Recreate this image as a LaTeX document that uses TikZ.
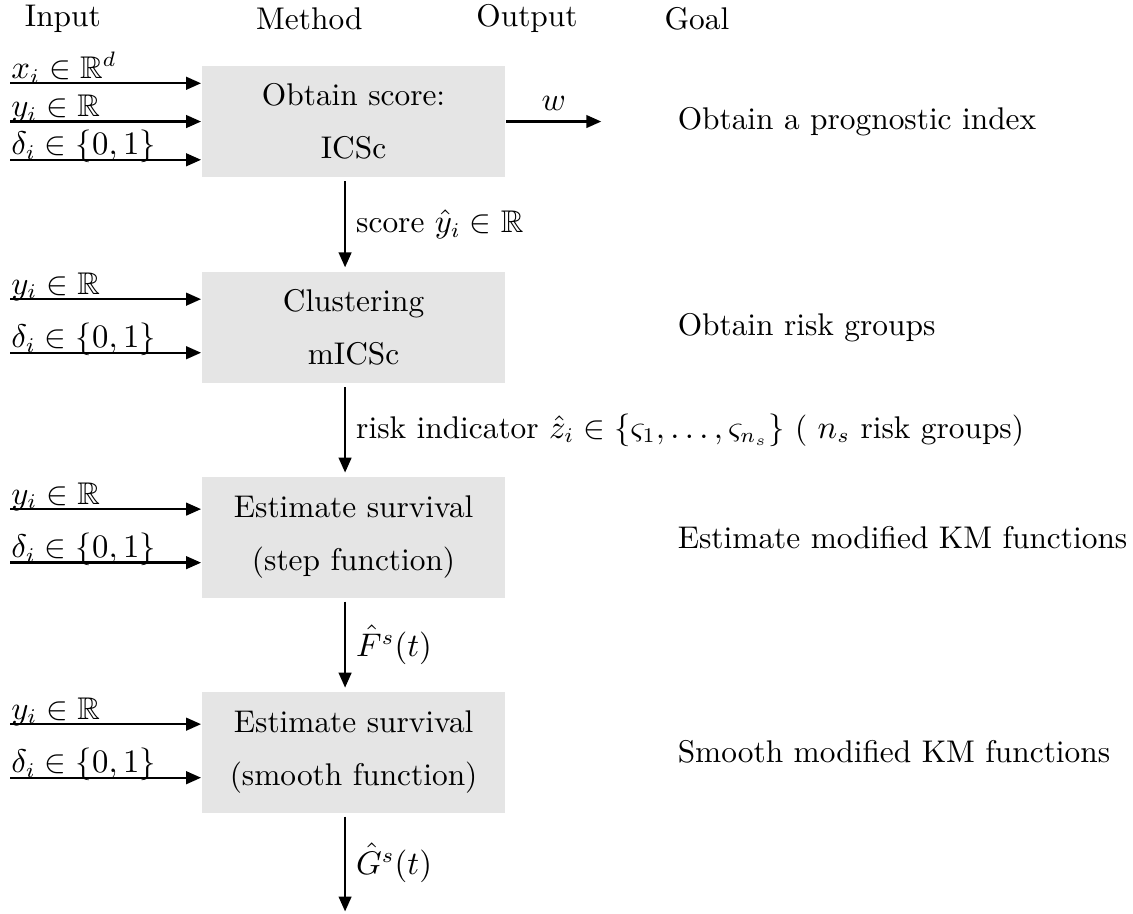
\documentclass[tikz,border=0pt]{standalone}
\usepackage{amsmath,amssymb}
\usepackage{tikz}
\usetikzlibrary{arrows.meta}
\usetikzlibrary{positioning}

\begin{document}
\begin{tikzpicture}[thick,node distance=2.47cm,font=\fontsize{10.5}{12.6}\selectfont,
	method node/.style={fill=black!10, minimum width=3.56cm, minimum height=1.31cm, align=center},
	tall node/.style={method node, minimum height=1.42cm},
	arr/.style={-{Triangle[length=5pt,width=4.2pt]}},
	in label/.style={pos=0, anchor=base west, inner sep=0pt, yshift=0.06cm},
	goal node/.style={anchor=west, inner sep=0pt}]
	
	\useasboundingbox (0,0) rectangle (13.33,-10.75);
	
	% headers
	\node (hin) at (0.74,-0.22) {Input};
	\node (hmet) at (3.64,-0.22) {Method};
	\node (hout) at (6.2,-0.22) {Output};
	\node (hgoal) at (8.2,-0.22) {Goal};
	
	% method boxes
	\node[method node] (obt) at (4.16,-1.43) {Obtain score:\\[5pt]ICSc};
	\node[method node] (clu) [below of=obt, yshift=0.05cm] {Clustering\\[5pt]mICSc};
	\node[tall node] (step) [below of=clu] {Estimate survival\\[5pt](step function)};
	\node[tall node] (smo) [below of=step, yshift=-0.06cm] {Estimate survival\\[5pt](smooth function)};
	
	% goals
	\coordinate (goalx) at (7.96,0);
	\node[goal node] (g1) at (obt -| goalx) {Obtain a prognostic index};
	\node[goal node] (g2) at (clu -| goalx) {Obtain risk groups};
	\node[goal node] (g3) at (step -| goalx) {Estimate modified KM functions};
	\node[goal node] (g4) at (smo -| goalx) {Smooth modified KM functions};
	
	% inputs
	\coordinate (left) at (0.12,0);
	\draw[arr] ([yshift=0.45cm]obt.west -| left) -- node[in label] {$x_i\in\mathbb{R}^d$} ([yshift=0.45cm]obt.west);
	\draw[arr] (obt.west -| left) -- node[in label] {$y_i\in\mathbb{R}$} (obt.west);
	\draw[arr] ([yshift=-0.45cm]obt.west -| left) -- node[in label] {$\delta_i\in\{0,1\}$} ([yshift=-0.45cm]obt.west);
	
	\draw[arr] ([yshift=0.33cm]clu.west -| left) -- node[in label] {$y_i\in\mathbb{R}$} ([yshift=0.33cm]clu.west);
	\draw[arr] ([yshift=-0.30cm]clu.west -| left) -- node[in label] {$\delta_i\in\{0,1\}$} ([yshift=-0.30cm]clu.west);
	
	\draw[arr] ([yshift=0.33cm]step.west -| left) -- node[in label] {$y_i\in\mathbb{R}$} ([yshift=0.33cm]step.west);
	\draw[arr] ([yshift=-0.30cm]step.west -| left) -- node[in label] {$\delta_i\in\{0,1\}$} ([yshift=-0.30cm]step.west);
	
	\draw[arr] ([yshift=0.33cm]smo.west -| left) -- node[in label] {$y_i\in\mathbb{R}$} ([yshift=0.33cm]smo.west);
	\draw[arr] ([yshift=-0.30cm]smo.west -| left) -- node[in label] {$\delta_i\in\{0,1\}$} ([yshift=-0.30cm]smo.west);
	
	% output
	\draw[arr] (obt.east) -- node[above] {$w$} ([xshift=1.12cm]obt.east);
	
	% flow between boxes
	\draw[arr, shorten <=1pt, shorten >=1pt] ([xshift=-0.1cm]obt.south) -- node[right] {score $\hat{y}_i\in\mathbb{R}$} ([xshift=-0.1cm]clu.north);
	\draw[arr, shorten <=1pt, shorten >=1pt] ([xshift=-0.1cm]clu.south) -- node[right] {risk indicator $\hat{z}_i\in\{\varsigma_1,\ldots,\varsigma_{n_s}\}$ ( $n_s$ risk groups)} ([xshift=-0.1cm]step.north);
	\draw[arr, shorten <=1pt, shorten >=1pt] ([xshift=-0.1cm]step.south) -- node[right] {$\hat{F}^s(t)$} ([xshift=-0.1cm]smo.north);
	\coordinate (fin) at ([xshift=-0.1cm, yshift=-1.15cm]smo.south);
	\draw[arr, shorten <=1pt] ([xshift=-0.1cm]smo.south) -- node[right] {$\hat{G}^s(t)$} (fin);
	
\end{tikzpicture}
\end{document}
